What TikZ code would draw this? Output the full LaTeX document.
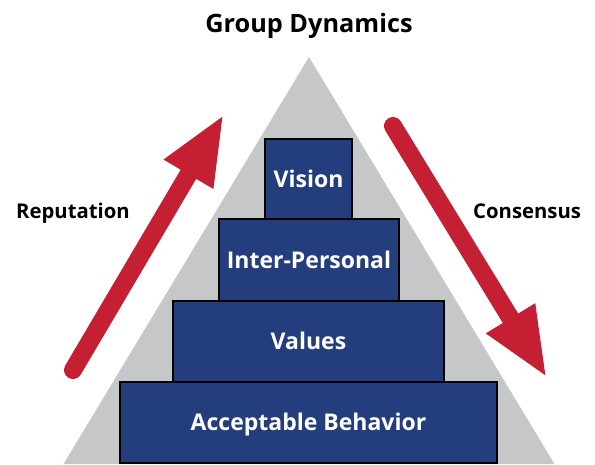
\documentclass[tikz,border=0pt]{standalone}
\usepackage{fontspec}
\setmainfont{Open Sans}
\usetikzlibrary{arrows.meta}
\definecolor{tricol}{RGB}{198,199,201}
\definecolor{boxcol}{RGB}{36,62,125}
\definecolor{arrcol}{RGB}{196,31,50}
\begin{document}
\begin{tikzpicture}[x=1pt,y=-1pt,
  tier/.style={draw=black,line width=2pt,fill=boxcol,text=white,
    font=\bfseries\fontsize{23}{27}\selectfont,
    text height=16.4pt,text depth=0pt,inner sep=0pt},
  lbl/.style={text=black,font=\bfseries\fontsize{20.3}{24}\selectfont,inner sep=0pt},
  bigarrow/.style={draw=arrcol,line width=18pt,line cap=round,
    -{Triangle[length=70pt,width=52pt]}}]
\useasboundingbox (0,0) rectangle (595,464);
\fill[tricol] (309,57) -- (63.5,464) -- (554.5,464) -- cycle;
\node[tier,minimum width=377pt,minimum height=81pt] (ab) at (308.5,422.5) {Acceptable Behavior};
\node[tier,minimum width=271pt,minimum height=81pt] (va) at (308.5,341.5) {Values};
\node[tier,minimum width=180pt,minimum height=82pt] (ip) at (309,260) {Inter-Personal};
\node[tier,minimum width=87pt,minimum height=80pt] (vi) at (308.5,179) {Vision};
\node[text=black,font=\bfseries\fontsize{25.3}{29}\selectfont,inner sep=0pt,anchor=base] (title) at (309,32) {Group Dynamics};
\node[lbl,anchor=base west] (rep) at (16,218) {Reputation};
\node[lbl,anchor=base west] (con) at (473,218) {Consensus};
\coordinate (lt) at (73,370);
\coordinate (lh) at (224,114);
\coordinate (rt) at (393,126);
\coordinate (rh) at (547,378);
\draw[bigarrow] (lt) -- (lh);
\draw[bigarrow] (rt) -- (rh);
\end{tikzpicture}
\end{document}
